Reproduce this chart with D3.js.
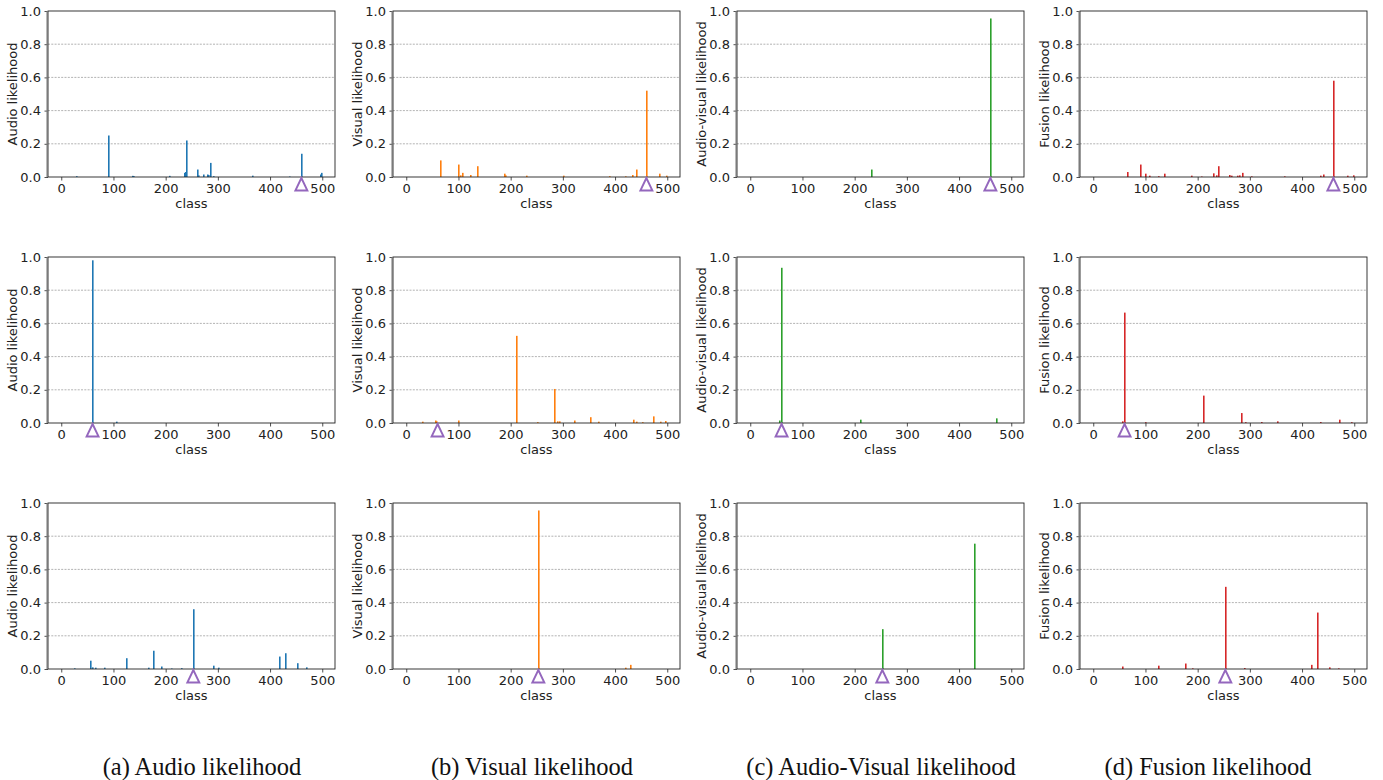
<!DOCTYPE html>
<html>
<head>
<meta charset="utf-8">
<script src="https://cdn.jsdelivr.net/npm/d3@7"></script>
<style>
  html, body { margin: 0; padding: 0; background: #fff; }
  svg { display: block; }
  .tick text { font-family: "DejaVu Sans", sans-serif; font-size: 13px; fill: #222; }
  .axis-label { font-family: "DejaVu Sans", sans-serif; font-size: 13px; fill: #222; }
  .caption { font-family: "Liberation Serif", "Times New Roman", serif; font-size: 24.5px; fill: #111; }
</style>
</head>
<body>
<svg id="chart" width="1383" height="780"></svg>
<script>
// sparse likelihoods: [class index, probability]; all other classes ~0
const audioRow1 = [[30, 0.005], [92, 0.25], [137, 0.007], [139, 0.006], [208, 0.007], [236, 0.025], [239, 0.03], [241, 0.22],
  [262, 0.045], [264, 0.01], [274, 0.015], [280, 0.015], [282, 0.012], [287, 0.085], [292, 0.005], [367, 0.008],
  [437, 0.003], [460, 0.14], [497, 0.015], [499, 0.025]];
const visualRow1 = [[67, 0.10], [100, 0.075], [105, 0.01], [109, 0.025], [124, 0.012], [138, 0.065], [188, 0.02], [190, 0.01],
  [231, 0.008], [302, 0.008], [390, 0.005], [421, 0.004], [434, 0.012], [442, 0.045], [460, 0.52], [485, 0.02], [499, 0.008]];
const avRow1 = [[232, 0.045], [460, 0.955]];
const fusionRow1 = [[66, 0.03], [91, 0.075], [100, 0.02], [109, 0.008], [125, 0.005], [137, 0.02], [188, 0.008], [207, 0.003],
  [231, 0.022], [236, 0.01], [241, 0.065], [262, 0.012], [266, 0.008], [276, 0.008], [280, 0.01], [287, 0.025],
  [303, 0.004], [367, 0.004], [436, 0.008], [442, 0.015], [460, 0.58], [487, 0.008], [499, 0.01]];

const audioRow2 = [[60, 0.98], [106, 0.008]];
const visualRow2 = [[32, 0.008], [56, 0.015], [59, 0.01], [101, 0.015], [211, 0.525], [252, 0.005], [285, 0.205], [291, 0.01],
  [294, 0.01], [323, 0.015], [354, 0.035], [368, 0.008], [436, 0.02], [441, 0.008], [453, 0.005], [474, 0.04],
  [488, 0.008], [497, 0.012]];
const avRow2 = [[57, 0.015], [60, 0.935], [212, 0.02], [473, 0.028]];
const fusionRow2 = [[56, 0.01], [60, 0.665], [101, 0.005], [211, 0.165], [284, 0.06], [292, 0.005], [323, 0.006], [353, 0.01],
  [436, 0.006], [473, 0.02], [496, 0.005]];

const audioRow3 = [[25, 0.004], [57, 0.05], [60, 0.01], [67, 0.008], [83, 0.008], [126, 0.065], [167, 0.008], [178, 0.11],
  [192, 0.015], [212, 0.003], [231, 0.005], [253, 0.36], [292, 0.02], [302, 0.008], [419, 0.075], [430, 0.095],
  [453, 0.035], [471, 0.01]];
const visualRow3 = [[253, 0.955], [421, 0.008], [431, 0.025]];
const avRow3 = [[253, 0.24], [430, 0.755]];
const fusionRow3 = [[56, 0.015], [125, 0.02], [177, 0.033], [191, 0.004], [253, 0.495], [291, 0.006], [418, 0.025], [430, 0.34],
  [453, 0.01], [471, 0.004]];

const groundTruth = [460, 60, 253];
const yLabels = ["Audio likelihood", "Visual likelihood", "Audio-visual likelihood", "Fusion likelihood"];
const captions = ["(a) Audio likelihood", "(b) Visual likelihood", "(c) Audio-Visual likelihood", "(d) Fusion likelihood"];
const colors = ["#1f77b4", "#ff7f0e", "#2ca02c", "#d62728"];
const xTicks = [0, 100, 200, 300, 400, 500];
const yTicks = [0, 0.2, 0.4, 0.6, 0.8, 1.0];

const grid = [
  [audioRow1, visualRow1, avRow1, fusionRow1],
  [audioRow2, visualRow2, avRow2, fusionRow2],
  [audioRow3, visualRow3, avRow3, fusionRow3]
];

const svg = d3.select("#chart");
const colLeft = [48, 393, 737, 1080];
const rowTop = [11, 257, 503];
const plotW = 287;
const plotH = 166;
const captionX = [202, 532, 881, 1208];

const x = d3.scaleLinear().domain([-25.4, 524.4]).range([0, plotW]);
const y = d3.scaleLinear().domain([0, 1]).range([plotH, 0]);

grid.forEach((row, r) => {
  row.forEach((data, c) => {
    drawPanel(data, r, c);
  });
});

captions.forEach((t, i) => {
  svg.append("text").attr("class", "caption")
    .attr("x", captionX[i]).attr("y", 775)
    .attr("text-anchor", "middle").text(t);
});

function drawPanel(data, r, c) {
  const g = svg.append("g").attr("transform", `translate(${colLeft[c]},${rowTop[r]})`);

  // dotted grid
  g.append("g").selectAll("line")
    .data(yTicks.filter((d) => d > 0 && d < 1))
    .join("line")
    .attr("x1", 0).attr("x2", plotW)
    .attr("y1", (d) => y(d)).attr("y2", (d) => y(d))
    .attr("stroke", "#a0a0a0").attr("stroke-width", 0.8)
    .attr("stroke-dasharray", "2,1.3");

  const barW = Math.max(1.6, x(0.8) - x(0));
  g.append("g").selectAll("rect")
    .data(data)
    .join("rect")
    .attr("x", (d) => Math.round(x(d[0]) - barW / 2))
    .attr("y", (d) => y(d[1]))
    .attr("width", barW)
    .attr("height", (d) => plotH - y(d[1]))
    .attr("fill", colors[c]);

  const xAxis = d3.axisBottom(x).tickValues(xTicks).tickFormat(d3.format("d")).tickSize(3.5).tickPadding(3.5);
  const yAxis = d3.axisLeft(y).tickValues(yTicks).tickFormat(d3.format(".1f")).tickSize(3.5).tickPadding(3.5);

  const gx = g.append("g").attr("transform", `translate(0,${plotH})`).call(xAxis);
  const gy = g.append("g").call(yAxis);
  [gx, gy].forEach((a) => {
    a.select(".domain").remove();
    a.selectAll(".tick line").attr("stroke", "#222").attr("stroke-width", 0.8);
  });

  // frame
  g.append("rect")
    .attr("x", 0).attr("y", 0).attr("width", plotW).attr("height", plotH)
    .attr("fill", "none").attr("stroke", "#222").attr("stroke-width", 0.9);
  g.append("line")
    .attr("x1", -0.8).attr("x2", -0.8).attr("y1", 0).attr("y2", plotH)
    .attr("stroke", "#777").attr("stroke-width", 1.4);

  // ground-truth marker
  const gt = groundTruth[r];
  const cx = x(gt);
  const base = y(0);
  g.append("path")
    .attr("d", `M${cx},${base + 1} L${cx + 6},${base + 13.5} L${cx - 6},${base + 13.5} Z`)
    .attr("fill", "none").attr("stroke", "#9467bd").attr("stroke-width", 1.9)
    .attr("stroke-linejoin", "miter");

  g.append("text").attr("class", "axis-label")
    .attr("x", plotW / 2).attr("y", plotH + 31)
    .attr("text-anchor", "middle").text("class");

  g.append("text").attr("class", "axis-label")
    .attr("transform", `translate(-31,${plotH / 2}) rotate(-90)`)
    .attr("text-anchor", "middle").text(yLabels[c]);
}
</script>
</body>
</html>
